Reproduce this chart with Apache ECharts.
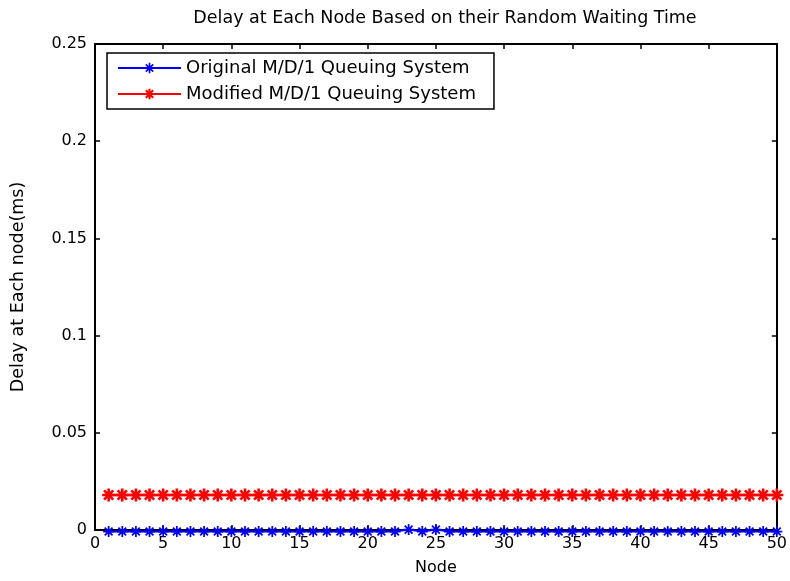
<!DOCTYPE html>
<html><head><meta charset="utf-8">
<script src="https://cdn.jsdelivr.net/npm/echarts@6/dist/echarts.min.js"></script>
<style>html,body{margin:0;padding:0;background:#fff}#c{width:790px;height:581px}</style>
</head><body><div id="c"></div>
<script>
var nodes = [1,2,3,4,5,6,7,8,9,10,11,12,13,14,15,16,17,18,19,20,21,22,23,24,25,26,27,28,29,30,31,32,33,34,35,36,37,38,39,40,41,42,43,44,45,46,47,48,49,50];
var originalDelay = [-0.0008,-0.0008,-0.0008,-0.0008,-0.0008,-0.0008,-0.0008,-0.0008,-0.0008,-0.0008,-0.0008,-0.0008,-0.0008,-0.0008,-0.0008,-0.0008,-0.0008,-0.0008,-0.0008,-0.0008,-0.0008,-0.0008,0.0002,-0.0008,0.0002,-0.0008,-0.0008,-0.0008,-0.0008,-0.0008,-0.0008,-0.0008,-0.0008,-0.0008,-0.0008,-0.0008,-0.0008,-0.0008,-0.0008,-0.0008,-0.0008,-0.0008,-0.0008,-0.0008,-0.0008,-0.0008,-0.0008,-0.0008,-0.0008,-0.0008];
var modifiedDelay = [0.018,0.018,0.018,0.018,0.018,0.018,0.018,0.018,0.018,0.018,0.018,0.018,0.018,0.018,0.018,0.018,0.018,0.018,0.018,0.018,0.018,0.018,0.018,0.018,0.018,0.018,0.018,0.018,0.018,0.018,0.018,0.018,0.018,0.018,0.018,0.018,0.018,0.018,0.018,0.018,0.018,0.018,0.018,0.018,0.018,0.018,0.018,0.018,0.018,0.018];
var seriesNames = ['Original M/D/1 Queuing System','Modified M/D/1 Queuing System'];
var xTicks = [0,5,10,15,20,25,30,35,40,45,50];
var yTicks = [0,0.05,0.1,0.15,0.2,0.25];

function star(w){
  var a=10-w/2,b=10+w/2,d=w*0.707/2;
  var p1=2.9,p2=17.1;
  return 'path://M'+a+' 0 H'+b+' V20 H'+a+' Z '+
    'M0 '+a+' H20 V'+b+' H0 Z '+
    'M'+(p1+d)+' '+(p1-d)+' L'+(p2+d)+' '+(p2-d)+' L'+(p2-d)+' '+(p2+d)+' L'+(p1-d)+' '+(p1+d)+' Z '+
    'M'+(p2-d)+' '+(p1-d)+' L'+(p2+d)+' '+(p1+d)+' L'+(p1+d)+' '+(p2+d)+' L'+(p1-d)+' '+(p2-d)+' Z';
}
var font = 'DejaVu Sans';
var chart = echarts.init(document.getElementById('c'));
var axisCommon = {
  axisLine:{show:true,onZero:false,lineStyle:{color:'#000',width:2}},
  axisTick:{show:true,inside:true,length:5,lineStyle:{color:'#000',width:1.5}},
  splitLine:{show:false}
};
chart.setOption({
  animation:false,
  backgroundColor:'#fff',
  title:{text:'Delay at Each Node Based on their Random Waiting Time',left:440,textAlign:'center',top:4,
    textStyle:{fontFamily:font,fontSize:17.5,fontWeight:'normal',color:'#000'}},
  grid:{left:95,right:10,top:44,bottom:50},
  legend:{orient:'vertical',left:107,top:53,itemWidth:63,itemHeight:13,itemGap:8,
    borderColor:'#000',borderWidth:1.5,padding:[6,18,6,10],backgroundColor:'#fff',
    textStyle:{fontFamily:font,fontSize:18,color:'#000'},data:seriesNames},
  xAxis:[Object.assign({type:'value',min:0,max:50,interval:5,name:'Node',nameLocation:'middle',nameGap:30,
    nameTextStyle:{fontFamily:font,fontSize:16,color:'#000'},
    axisLabel:{fontFamily:font,fontSize:16,color:'#000',margin:6}},axisCommon),
    Object.assign({type:'value',min:0,max:50,interval:5,position:'top',axisLabel:{show:false}},axisCommon)],
  yAxis:[Object.assign({type:'value',min:0,max:0.25,interval:0.05,name:'Delay at Each node(ms)',nameLocation:'middle',nameGap:68,
    nameTextStyle:{fontFamily:font,fontSize:17.5,color:'#000'},
    axisLabel:{fontFamily:font,fontSize:16,color:'#000',margin:8}},axisCommon),
    Object.assign({type:'value',min:0,max:0.25,interval:0.05,position:'right',axisLabel:{show:false}},axisCommon)],
  series:[
    {name:seriesNames[0],type:'line',clip:false,data:nodes.map(function(n,i){return [n,originalDelay[i]];}),
      symbol:star(3.2),symbolSize:11,showAllSymbol:true,
      itemStyle:{color:'#0000ff'},lineStyle:{color:'#0000ff',width:2}},
    {name:seriesNames[1],type:'line',clip:false,data:nodes.map(function(n,i){return [n,modifiedDelay[i]];}),
      symbol:star(4),symbolSize:13,showAllSymbol:true,
      itemStyle:{color:'#ff0000'},lineStyle:{color:'#ff0000',width:2.5}}
  ]
});
</script></body></html>
